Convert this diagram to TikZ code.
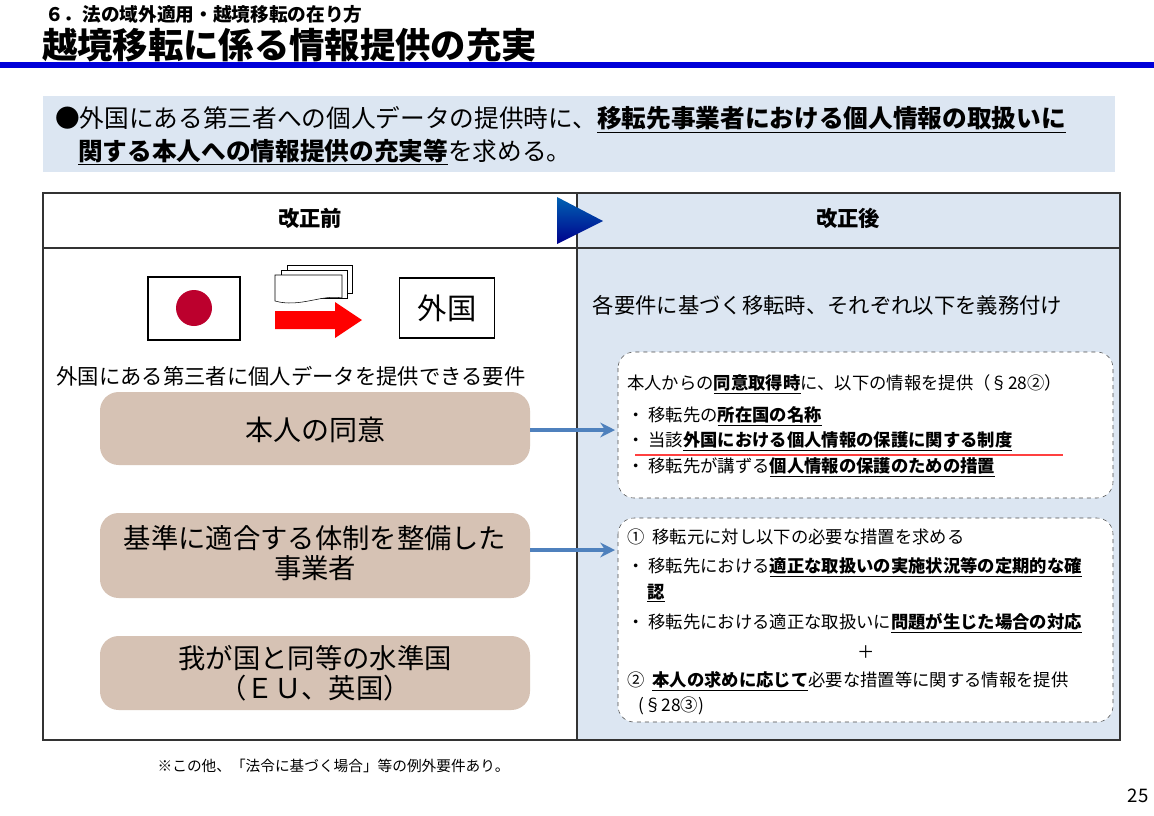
\documentclass[tikz,border=0pt]{standalone}
\usepackage{fontspec}
\setmainfont{Noto Sans CJK JP}
\usetikzlibrary{arrows.meta}
\definecolor{panelblue}{RGB}{220,230,242}
\definecolor{reqtan}{RGB}{214,194,180}
\definecolor{linkblue}{RGB}{79,129,189}
\definecolor{flagred}{RGB}{188,0,45}
\newcommand\fsz[1]{\fontsize{#1}{#1}\selectfont}
\newcommand\ulb[1]{\underline{\textbf{#1}}}

\begin{document}
\begin{tikzpicture}[x=0.75pt,y=-0.75pt,
    reqbox/.style={fill=reqtan,rounded corners=14pt},
    infobox/.style={draw=black!70,dashed,fill=white,rounded corners=12pt},
    linkarrow/.style={draw=linkblue,line width=2.5pt,-{Stealth[length=11pt,width=11pt]}},
    line/.style={anchor=west,inner sep=0pt,font=\fsz{13}}]

    % Page frame
    \useasboundingbox (0,0) rectangle (1154,815);
    \fill[white] (0,0) rectangle (1154,815);

    % Heading
    \node[anchor=west,inner sep=0pt,font=\fsz{14}\bfseries] (sub) at (45,14) {６．法の域外適用・越境移転の在り方};
    \node[anchor=west,inner sep=0pt,font=\fsz{26.5}\bfseries] (title) at (42,45) {越境移転に係る情報提供の充実};
    \fill[blue!85!black] (0,62) rectangle (1154,68);

    % Summary panel
    \fill[panelblue] (43,96) rectangle (1115,172);
    \node[anchor=west,inner sep=0pt,font=\fsz{18.5}] (lead1) at (55,120)
        {●外国にある第三者への個人データの提供時に、\ulb{移転先事業者における個人情報の取扱いに}};
    \node[anchor=west,inner sep=0pt,font=\fsz{18.5}] (lead2) at (78,152)
        {\ulb{関する本人への情報提供の充実等}を求める。};

    % Comparison table
    \fill[panelblue] (577,193) rectangle (1120,740);
    \draw[thick,black!80] (43,193) rectangle (1120,740);
    \draw[thick,black!80] (43,248) -- (1120,248);
    \draw[thick,black!80] (577,193) -- (577,740);
    \node[font=\fsz{16}\bfseries] (before) at (310,218) {改正前};
    \node[font=\fsz{16}\bfseries] (after) at (848,218) {改正後};
    \shade[top color=blue!45!cyan!70!black,bottom color=blue!55!black]
        (557,197) -- (603,221) -- (557,244) -- cycle;

    % Flag, documents and destination
    \draw[thick] (148,277) rectangle (240,340);
    \fill[flagred] (194,308) circle (18);
    \draw[fill=white] (287,265) rectangle (352,293);
    \draw[fill=white] (281,270) rectangle (347,298);
    \draw[fill=white] (275,275) -- (342,275) -- (342,298)
        .. controls (322,294) and (300,308) .. (275,301) -- cycle;
    \fill[red] (275,311) -- (335,311) -- (335,302) -- (362,320)
        -- (335,338) -- (335,329) -- (275,329) -- cycle;
    \node[draw,thick,minimum width=71pt,minimum height=45pt,font=\fsz{22}] (abroad) at (447,308) {外国};

    % Requirements before the revision
    \node[font=\fsz{16}] (reqtitle) at (291,376) {外国にある第三者に個人データを提供できる要件};
    \fill[reqbox] (100,392) rectangle (530,465);
    \node[font=\fsz{21}] (consent) at (315,430) {本人の同意};
    \fill[reqbox] (100,513) rectangle (530,598);
    \node[font=\fsz{20.5},align=center] (system) at (315,553) {基準に適合する体制を整備した\\[2pt]事業者};
    \fill[reqbox] (100,636) rectangle (530,710);
    \node[font=\fsz{20.5},align=center] (equiv) at (315,673) {我が国と同等の水準国\\[2pt]（ＥＵ、英国）};

    % Obligations after the revision
    \node[anchor=west,font=\fsz{16}] (duty) at (588,305) {各要件に基づく移転時、それぞれ以下を義務付け};
    \path[infobox] (618,352) rectangle (1113,498);
    \node[line] (a0) at (627,384) {本人からの\ulb{同意取得時}に、以下の情報を提供（§28②）};
    \node[line] (a1) at (627,416) {・ 移転先の\ulb{所在国の名称}};
    \node[line] (a2) at (627,441) {・ 当該\ulb{外国における個人情報の保護に関する制度}};
    \draw[red!75,line width=1pt] (635,455) -- (1063,455);
    \node[line] (a3) at (627,467) {・ 移転先が講ずる\ulb{個人情報の保護のための措置}};

    \path[infobox] (618,518) rectangle (1113,722);
    \node[line] (b0) at (627,537) {①\ \ 移転元に対し以下の必要な措置を求める};
    \node[line] (b1) at (627,567) {・ 移転先における\ulb{適正な取扱いの実施状況等の定期的な確}};
    \node[line] (b2) at (647,593) {\ulb{認}};
    \node[line] (b3) at (627,623) {・ 移転先における適正な取扱いに\ulb{問題が生じた場合の対応}};
    \node[font=\fsz{13}] (plus) at (866,652) {＋};
    \node[line] (b4) at (627,681) {②\ \ \ulb{本人の求めに応じて}必要な措置等に関する情報を提供};
    \node[line] (b5) at (638,706) {(§28③)};

    % Links
    \coordinate (t1) at (615,430);
    \coordinate (t2) at (615,550);
    \draw[linkarrow] (530,430) -- (t1);
    \draw[linkarrow] (530,550) -- (t2);

    % Footer
    \node[anchor=west,font=\fsz{11}] (note) at (153,766) {※この他、「法令に基づく場合」等の例外要件あり。};
    \node[font=\fsz{14}] (page) at (1138,796) {25};
\end{tikzpicture}
\end{document}
